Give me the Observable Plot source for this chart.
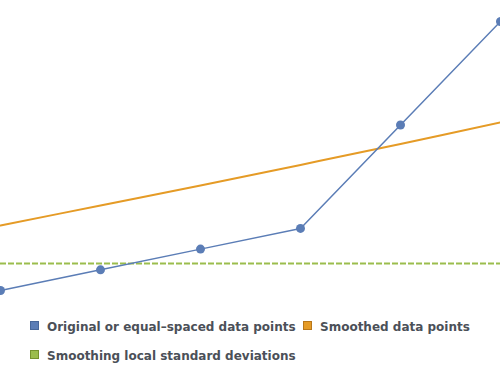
<!DOCTYPE html>
<html>
<head>
<meta charset="utf-8">
<script src="https://cdn.jsdelivr.net/npm/d3@7"></script>
<script src="https://cdn.jsdelivr.net/npm/@observablehq/plot@0.6"></script>
<style>
  html, body { margin: 0; padding: 0; background: #fff; }
  #wrap { position: relative; width: 500px; height: 371px; overflow: hidden; }
  #chart { position: absolute; left: 0; top: 0; }
  .item { position: absolute; font-family: "DejaVu Sans", sans-serif; font-weight: bold; font-size: 12px; color: #4b5058; white-space: nowrap; line-height: 14px; }
  .sw { position: absolute; width: 7px; height: 7px; border: 1px solid; }
</style>
</head>
<body>
<div id="wrap">
  <div id="chart"></div>
</div>
<script>
const xs = [0, 1, 2, 3, 4, 5];
const original = [0, 1, 2, 3, 8, 13];
const smoothed = [3.14, 4.11, 5.07, 6.07, 7.08, 8.12];
const stdDev = 1.30;
const seriesNames = ["Original or equal–spaced data points", "Smoothed data points", "Smoothing local standard deviations"];
const colors = ["#5b7db6", "#e59b26", "#9bbd4d"];
const borders = ["#47679a", "#b8771a", "#76932f"];

const origData = xs.map((x, i) => ({x, y: original[i]}));
const smoothData = xs.map((x, i) => ({x, y: smoothed[i]}));

const chart = Plot.plot({
  width: 500,
  height: 310,
  margin: 0,
  x: {domain: [0, 5], range: [0, 500], axis: null},
  y: {domain: [0, 13], range: [290, 21], axis: null},
  marks: [
    Plot.ruleY([stdDev], {stroke: colors[2], strokeWidth: 2, strokeDasharray: "6,2"}),
    Plot.line(smoothData, {x: "x", y: "y", stroke: colors[1], strokeWidth: 2, curve: "catmull-rom"}),
    Plot.line(origData, {x: "x", y: "y", stroke: colors[0], strokeWidth: 1.5}),
    Plot.dot(origData, {x: "x", y: "y", r: 4.5, fill: colors[0], stroke: "none"})
  ]
});
chart.style.overflow = "visible";
document.getElementById("chart").appendChild(chart);

const wrap = document.getElementById("wrap");
const pos = [[30, 321], [303, 321], [30, 350]];
seriesNames.forEach((name, i) => {
  const sw = document.createElement("div");
  sw.className = "sw";
  sw.style.left = pos[i][0] + "px";
  sw.style.top = pos[i][1] + "px";
  sw.style.background = colors[i];
  sw.style.borderColor = borders[i];
  wrap.appendChild(sw);
  const t = document.createElement("div");
  t.className = "item";
  t.textContent = name;
  t.style.left = (pos[i][0] + 17) + "px";
  t.style.top = (pos[i][1] - 1) + "px";
  wrap.appendChild(t);
});
</script>
</body>
</html>
